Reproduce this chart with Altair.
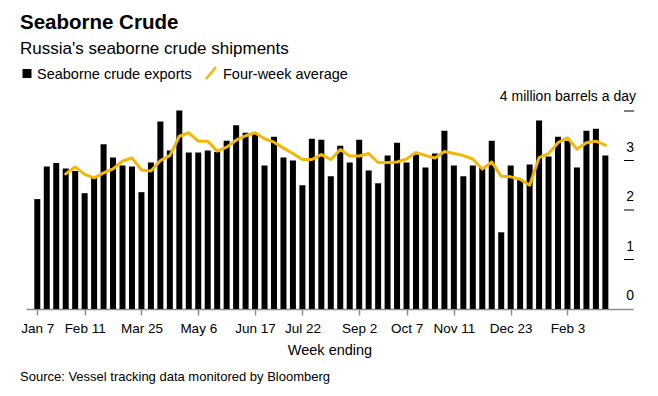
import altair as alt
import pandas as pd

# ---- data ----
exports = [2.22, 2.88, 2.95, 2.84, 2.79, 2.34, 2.65, 3.33, 3.06, 2.90,
           2.88, 2.36, 2.96, 3.79, 3.20, 4.01, 3.16, 3.16, 3.20, 3.17,
           3.40, 3.71, 3.56, 3.54, 2.90, 3.48, 3.06, 3.00, 2.50, 3.44,
           3.42, 2.68, 3.30, 2.96, 3.42, 2.80, 2.54, 3.10, 3.36, 2.96,
           3.12, 2.86, 3.14, 3.60, 2.90, 2.68, 2.90, 2.86, 3.40, 1.55,
           2.90, 2.62, 2.92, 3.81, 3.08, 3.48, 3.40, 2.86, 3.60, 3.64,
           3.10]
avg_start = 3
four_week_avg = [2.73, 2.87, 2.72, 2.65, 2.75, 2.83, 2.99, 3.05, 2.81, 2.79,
                 3.00, 3.10, 3.49, 3.56, 3.39, 3.39, 3.19, 3.27, 3.41, 3.50,
                 3.56, 3.44, 3.37, 3.25, 3.14, 3.02, 3.02, 3.12, 3.02, 3.22,
                 3.09, 3.09, 3.14, 2.96, 2.96, 2.97, 3.03, 3.16, 3.10, 3.05,
                 3.18, 3.14, 3.10, 3.03, 2.83, 2.97, 2.68, 2.67, 2.62, 2.50,
                 3.06, 3.14, 3.36, 3.46, 3.23, 3.36, 3.39, 3.31]
tick_weeks = [0, 5, 11, 17, 23, 28, 34, 39, 44, 50, 56]
tick_labels = ["Jan 7", "Feb 11", "Mar 25", "May 6", "Jun 17", "Jul 22",
               "Sep 2", "Oct 7", "Nov 11", "Dec 23", "Feb 3"]
y_ticks = [0, 1, 2, 3, 4]
y_labels = ["0", "1", "2", "3", ""]
unit_label = "4 million barrels a day"

FONT = "Liberation Sans"
GOLD = "#f3b806"
W, H = 607, 198

bars_df = pd.DataFrame({"week": list(range(len(exports))), "value": exports})
avg_df = pd.DataFrame({"week": list(range(avg_start, avg_start + len(four_week_avg))),
                       "avg": four_week_avg})
yt_df = pd.DataFrame({"v": y_ticks, "lab": y_labels})

label_expr = "[" + ",".join(f"'{l}'" for l in tick_labels) + "][indexof([" + \
    ",".join(str(t) for t in tick_weeks) + "], datum.value)]"

xscale = alt.Scale(domain=[-1.194, 62.92], nice=False, zero=False, padding=0)
yscale = alt.Scale(domain=[0, 4], nice=False, zero=True, padding=0)

bars = alt.Chart(bars_df).mark_bar(width=6, color="black").encode(
    x=alt.X("week:Q", scale=xscale,
            axis=alt.Axis(values=tick_weeks, labelExpr=label_expr, title=None,
                          grid=False, domainColor="#8c8c8c", domainWidth=1.5,
                          tickColor="#8c8c8c", tickSize=6, tickWidth=1.5,
                          labelFont=FONT, labelFontSize=13.5, labelColor="black",
                          labelPadding=6, labelFlush=False)),
    y=alt.Y("value:Q", scale=yscale, axis=None),
)

line = alt.Chart(avg_df).mark_line(color=GOLD, strokeWidth=3, strokeJoin="round",
                                   strokeCap="round").encode(
    x=alt.X("week:Q", scale=xscale),
    y=alt.Y("avg:Q", scale=yscale),
)

ticks = alt.Chart(yt_df[yt_df.v > 0]).mark_rule(color="black", strokeWidth=1).encode(
    y=alt.Y("v:Q", scale=yscale), x=alt.value(598), x2=alt.value(608))

tick_text = alt.Chart(yt_df).mark_text(align="right", baseline="middle", dy=-13,
                                       font=FONT, fontSize=14, color="black").encode(
    y=alt.Y("v:Q", scale=yscale), x=alt.value(608), text="lab:N")


def label(txt, x, y, size, weight="normal", align="left", color="black"):
    return alt.Chart(pd.DataFrame({"t": [txt]})).mark_text(
        align=align, baseline="alphabetic", font=FONT, fontSize=size,
        fontWeight=weight, color=color).encode(
        x=alt.value(x), y=alt.value(y), text="t:N")


title = label("Seaborne Crude", -6, -82, 20.5, "bold")
subtitle = label("Russia's seaborne crude shipments", -6, -57, 17)
leg1 = label("Seaborne crude exports", 11, -32, 14.5)
leg2 = label("Four-week average", 197, -32, 14.5)
unit = label(unit_label, 610, -10, 14, align="right")
xtitle = label("Week ending", 304, 244, 14.5, align="center")
source = label("Source: Vessel tracking data monitored by Bloomberg", -6, 270, 13)

sq = alt.Chart(pd.DataFrame({"k": [0]})).mark_rect(color="black").encode(
    x=alt.value(-3.5), x2=alt.value(5.5), y=alt.value(-42), y2=alt.value(-33))
slash = alt.Chart(pd.DataFrame({"k": [0]})).mark_rule(color=GOLD, strokeWidth=2.5).encode(
    x=alt.value(180), y=alt.value(-32), x2=alt.value(190), y2=alt.value(-44))

chart = alt.layer(bars, line, ticks, tick_text, title, subtitle, leg1, leg2,
                  sq, slash, unit, xtitle, source).properties(
    width=W, height=H,
    autosize=alt.AutoSizeParams(type="none"),
    padding={"left": 18, "top": 103, "right": 17, "bottom": 79},
).configure(font=FONT, view=alt.ViewConfig(strokeWidth=0, stroke="transparent"))

chart.save("out.html", embed_options={"renderer": "svg", "actions": False})
